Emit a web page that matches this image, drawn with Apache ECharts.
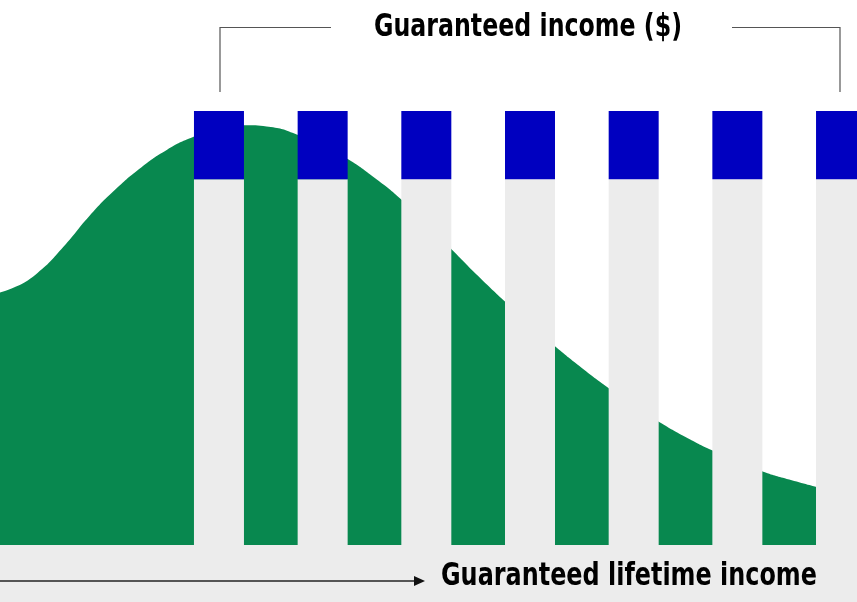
<!DOCTYPE html>
<html>
<head>
<meta charset="utf-8">
<script src="https://cdn.jsdelivr.net/npm/echarts@6/dist/echarts.min.js"></script>
<style>
html,body{margin:0;padding:0;background:#fff;}
#chart{width:857px;height:602px;}
</style>
</head>
<body>
<div id="chart"></div>
<script>
// Payment periods (bar positions) and the income split per bar
const periods = [1, 2, 3, 4, 5, 6, 7];
const baseIncome = [84.3, 84.3, 84.3, 84.3, 84.3, 84.3, 84.3];
const guaranteedIncome = [15.7, 15.7, 15.7, 15.7, 15.7, 15.7, 15.7];
// Green distribution curve (x position, height)
const curveX = [-1.25, -1.0, -0.75, -0.5, -0.25, 0, 0.25, 0.5, 0.75, 1.0, 1.25, 1.5, 1.75, 2.0, 2.25, 2.5, 2.75, 3.0, 3.25, 3.5, 3.75, 4.0, 4.25, 4.5, 4.75, 5.0, 5.25, 5.5, 5.75, 6.0, 6.25, 6.5, 6.76];
const curveY = [57.5, 59.1, 62.7, 68.7, 75.8, 81.9, 87.0, 91.1, 94.0, 96.0, 96.7, 96.3, 94.6, 91.9, 88.8, 84.6, 79.8, 74.0, 68.0, 62.0, 56.3, 50.9, 45.6, 40.8, 36.3, 32.1, 28.3, 24.9, 21.9, 19.4, 16.9, 15.1, 13.4];
const titleTop = 'Guaranteed income ($)';
const titleBottom = 'Guaranteed lifetime income';

const GREEN = '#08884f', BLUE = '#0000c0', GREY = '#ececec', LINE = '#555555';
const BAR_W = 50;
const FONT_FAMILY = "'DejaVu Sans Condensed', 'Liberation Sans', sans-serif";
const FONT = "bold 32px " + FONT_FAMILY;

function squeeze(text, targetWidth) {
  const c = document.createElement('canvas').getContext('2d');
  c.font = FONT;
  return targetWidth / c.measureText(text).width;
}

const chart = echarts.init(document.getElementById('chart'), null, {renderer: 'canvas'});
chart.setOption({
  animation: false,
  backgroundColor: '#ffffff',
  grid: {left: 0, right: 0, top: 111, bottom: 57},
  xAxis: {type: 'value', min: -1.112, max: 7.154, show: false},
  yAxis: {type: 'value', min: 0, max: 100, show: false},
  series: [
    {
      type: 'line',
      data: curveX.map((x, i) => [x, curveY[i]]),
      smooth: 0.5,
      symbol: 'none',
      lineStyle: {width: 0},
      areaStyle: {color: GREEN, opacity: 1},
      z: 1
    },
    {
      type: 'bar',
      barWidth: BAR_W,
      data: periods.map((p, i) => [p, baseIncome[i]]),
      itemStyle: {color: GREY},
      z: 2
    },
    {
      type: 'custom',
      data: periods.map((p, i) => [p, baseIncome[i], baseIncome[i] + guaranteedIncome[i]]),
      renderItem: function (params, api) {
        const top = api.coord([api.value(0), api.value(2)]);
        const bottom = api.coord([api.value(0), api.value(1)]);
        return {
          type: 'rect',
          shape: {x: top[0] - BAR_W / 2, y: top[1], width: BAR_W, height: bottom[1] - top[1]},
          style: {fill: BLUE}
        };
      },
      z: 3
    }
  ],
  graphic: [
    {type: 'rect', shape: {x: 0, y: 545, width: 857, height: 57}, style: {fill: GREY}, z: 0},
    {type: 'polyline', shape: {points: [[220, 92], [220, 27.5], [331, 27.5]]}, style: {stroke: LINE, lineWidth: 1.2, fill: null}},
    {type: 'polyline', shape: {points: [[732, 27.5], [840, 27.5], [840, 92]]}, style: {stroke: LINE, lineWidth: 1.2, fill: null}},
    {type: 'text', x: 528, y: 28, scaleX: squeeze(titleTop, 308), style: {text: titleTop, font: FONT, fill: '#000', align: 'center', verticalAlign: 'middle'}},
    {type: 'line', shape: {x1: 0, y1: 581, x2: 416, y2: 581}, style: {stroke: LINE, lineWidth: 2}},
    {type: 'polygon', shape: {points: [[414, 576], [425, 581], [414, 586]]}, style: {fill: '#111'}},
    {type: 'text', x: 441, y: 577, scaleX: squeeze(titleBottom, 376), style: {text: titleBottom, font: FONT, fill: '#000', align: 'left', verticalAlign: 'middle'}}
  ]
});
</script>
</body>
</html>
